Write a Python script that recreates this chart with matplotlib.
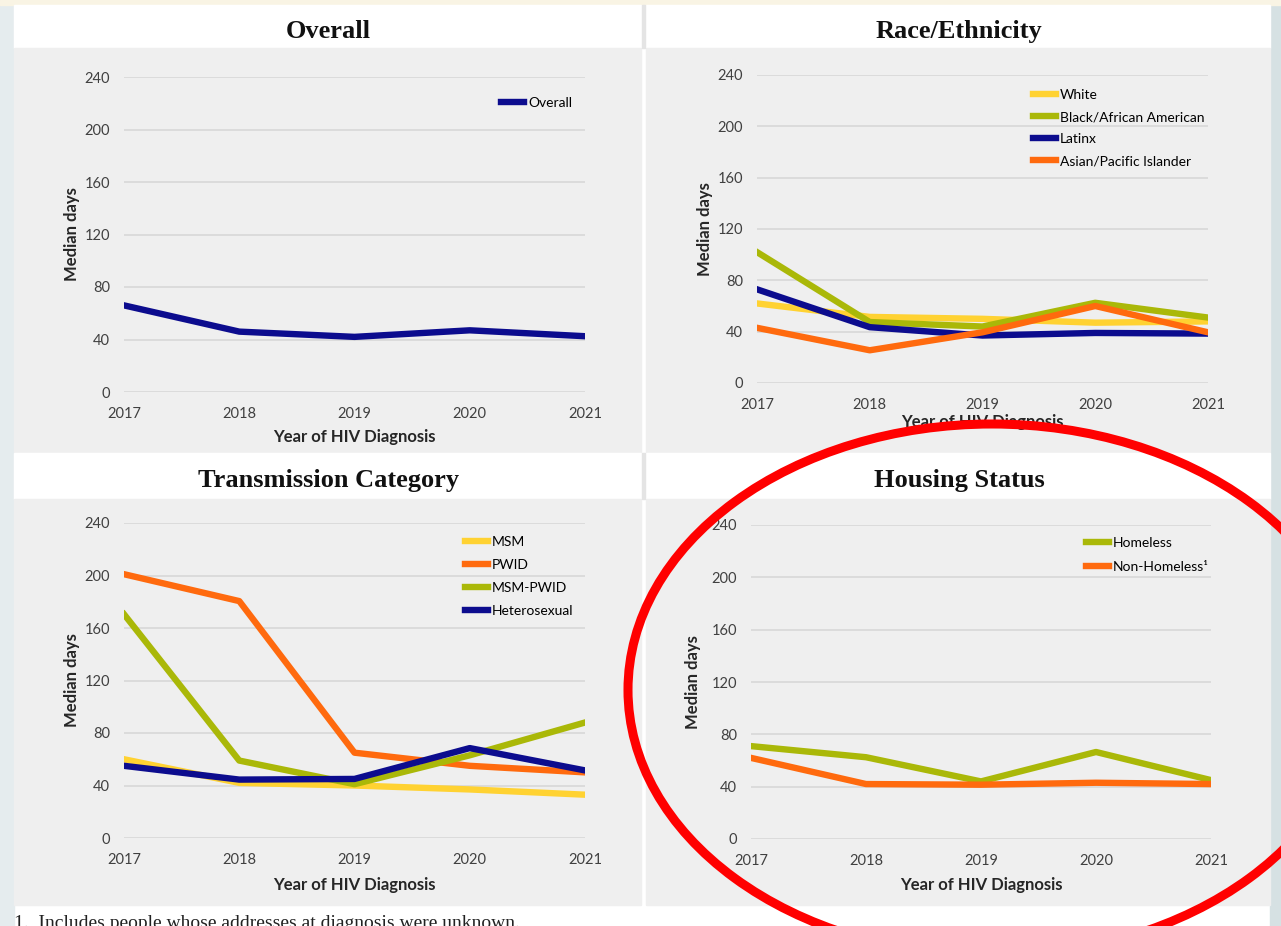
import matplotlib.pyplot as plt
from matplotlib.patches import Rectangle, Ellipse

# Median days from HIV diagnosis, by year of diagnosis
years = [2017, 2018, 2019, 2020, 2021]

overall = [66, 46, 42, 47, 42.5]

race_labels = ['White', 'Black/African American', 'Latinx', 'Asian/Pacific Islander']
race_white = [62, 51.5, 50, 47, 48]
race_black = [102, 47.5, 44, 62.5, 51]
race_latinx = [73, 43.5, 37, 39, 38.5]
race_asian = [43, 25.5, 39.5, 60, 39.5]

trans_labels = ['MSM', 'PWID', 'MSM-PWID', 'Heterosexual']
trans_msm = [60, 42, 40, 37, 33]
trans_pwid = [201, 180.5, 65, 55, 50]
trans_msm_pwid = [170.5, 59, 41, 63, 88]
trans_hetero = [55, 44.5, 45, 68.5, 51.5]

housing_labels = ['Homeless', 'Non-Homeless\u00b9']
housing_homeless = [71, 62.5, 44, 66.5, 45]
housing_non_homeless = [62, 42, 41.5, 43, 42]

NAVY = '#0C0C8E'
YELLOW = '#FFD232'
GREEN = '#AAB808'
ORANGE = '#FF6A0E'

W, H = 1281, 926
SANS = ['Lato', 'DejaVu Sans']
SERIF = ['Liberation Serif', 'DejaVu Serif']

fig = plt.figure(figsize=(W / 100, H / 100), dpi=100)


def frac(x0, y0, x1, y1):
    # pixel box (top-left origin) -> figure fraction rect
    return [x0 / W, 1 - y1 / H, (x1 - x0) / W, (y1 - y0) / H]


# page background, panel headers and grey plot areas
bg = fig.add_axes([0, 0, 1, 1], zorder=-10)
bg.set_xlim(0, W)
bg.set_ylim(H, 0)
bg.axis('off')
bg.add_patch(Rectangle((0, 0), W, H, color='white'))
bg.add_patch(Rectangle((0, 0), 14, H, color='#E5ECEE'))
bg.add_patch(Rectangle((1270, 0), 11, H, color='#D6E1E3'))
bg.add_patch(Rectangle((0, 0), W, 5, color='#F9F4E4'))

panels = [
    (14, 641, 5, 48, 453, 'Overall'),
    (646, 1270, 5, 48, 453, 'Race/Ethnicity'),
    (14, 641, 453, 499, 905, 'Transmission Category'),
    (646, 1270, 453, 499, 905, 'Housing Status'),
]
for x0, x1, yh, yg, yb, title in panels:
    bg.add_patch(Rectangle((x0, yh), x1 - x0, yg - yh, color='white'))
    bg.add_patch(Rectangle((x0, yg), x1 - x0, yb - yg, color='#EFEFEF'))
    bg.text((x0 + x1) / 2 + 1, (yh + yg) / 2 + 5, title, family=SERIF,
            fontsize=19, fontweight='bold', ha='center', va='center', color='#111111')
bg.add_patch(Rectangle((642, 453), 3, 46, color='#E4E4E4'))
bg.add_patch(Rectangle((642, 5), 3, 43, color='#E4E4E4'))

bg.text(14, 928, '1.  Includes people whose addresses at diagnosis were unknown.',
        family=SERIF, fontsize=14, va='baseline', ha='left', color='#222222')


def make_axes(box, ylab_dx, xlab_dy):
    x0, y0, x1, y1 = box
    ax = fig.add_axes(frac(x0, y0, x1, y1))
    ax.set_facecolor('none')
    ax.set_xlim(2017, 2021)
    ax.set_ylim(0, 240)
    ax.set_xticks(years)
    ax.set_yticks(range(0, 241, 40))
    ax.grid(axis='y', color='#D9D9D9', lw=1.3)
    ax.set_axisbelow(True)
    for s in ax.spines.values():
        s.set_visible(False)
    ax.tick_params(length=0, labelsize=10.5, labelcolor='#404040')
    ax.tick_params(axis='x', pad=11)
    ax.tick_params(axis='y', pad=10)
    for lab in ax.get_xticklabels() + ax.get_yticklabels():
        lab.set_family(SANS)
    ax.set_ylabel('Median days', family=SANS, fontsize=12, fontweight='bold', color='#262626')
    ax.set_xlabel('Year of HIV Diagnosis', family=SANS, fontsize=12, fontweight='bold', color='#262626')
    ax.yaxis.set_label_coords(ylab_dx / (x1 - x0), 0.5)
    ax.xaxis.set_label_coords(0.5, -xlab_dy / (y1 - y0))
    return ax


def add_legend(ax, x, y, spacing):
    ax.legend(loc='upper left', bbox_to_anchor=(x / W, 1 - y / H),
              bbox_transform=fig.transFigure, frameon=False, borderpad=0,
              borderaxespad=0, handlelength=1.65, handletextpad=0.3,
              labelspacing=spacing, prop={'family': SANS, 'size': 10})


LW = 4.6

ax1 = make_axes((124, 77, 585, 392), -44, 37)
ax1.plot(years, overall, color=NAVY, lw=LW, label='Overall')
add_legend(ax1, 501, 97, 0.5)

ax2 = make_axes((757, 75, 1208, 383), -44, 31)
for vals, col, lab in zip([race_white, race_black, race_latinx, race_asian],
                          [YELLOW, GREEN, NAVY, ORANGE], race_labels):
    ax2.plot(years, vals, color=col, lw=LW, label=lab)
add_legend(ax2, 1033, 89, 0.72)

ax3 = make_axes((124, 523, 585, 838), -44, 39)
for vals, col, lab in zip([trans_msm, trans_pwid, trans_msm_pwid, trans_hetero],
                          [YELLOW, ORANGE, GREEN, NAVY], trans_labels):
    ax3.plot(years, vals, color=col, lw=LW, label=lab)
add_legend(ax3, 465, 536, 0.8)

ax4 = make_axes((751, 525, 1211, 839), -50, 38)
for vals, col, lab in zip([housing_homeless, housing_non_homeless],
                          [GREEN, ORANGE], housing_labels):
    ax4.plot(years, vals, color=col, lw=LW, label=lab)
add_legend(ax4, 1086, 537, 0.85)

# red highlight ring around the housing panel
top = fig.add_axes([0, 0, 1, 1], zorder=10)
top.set_xlim(0, W)
top.set_ylim(H, 0)
top.axis('off')
top.add_patch(Ellipse((992, 690), 728, 532, fill=False, ec='#FF0000', lw=6.5))

fig.savefig('out.png', dpi=100)
